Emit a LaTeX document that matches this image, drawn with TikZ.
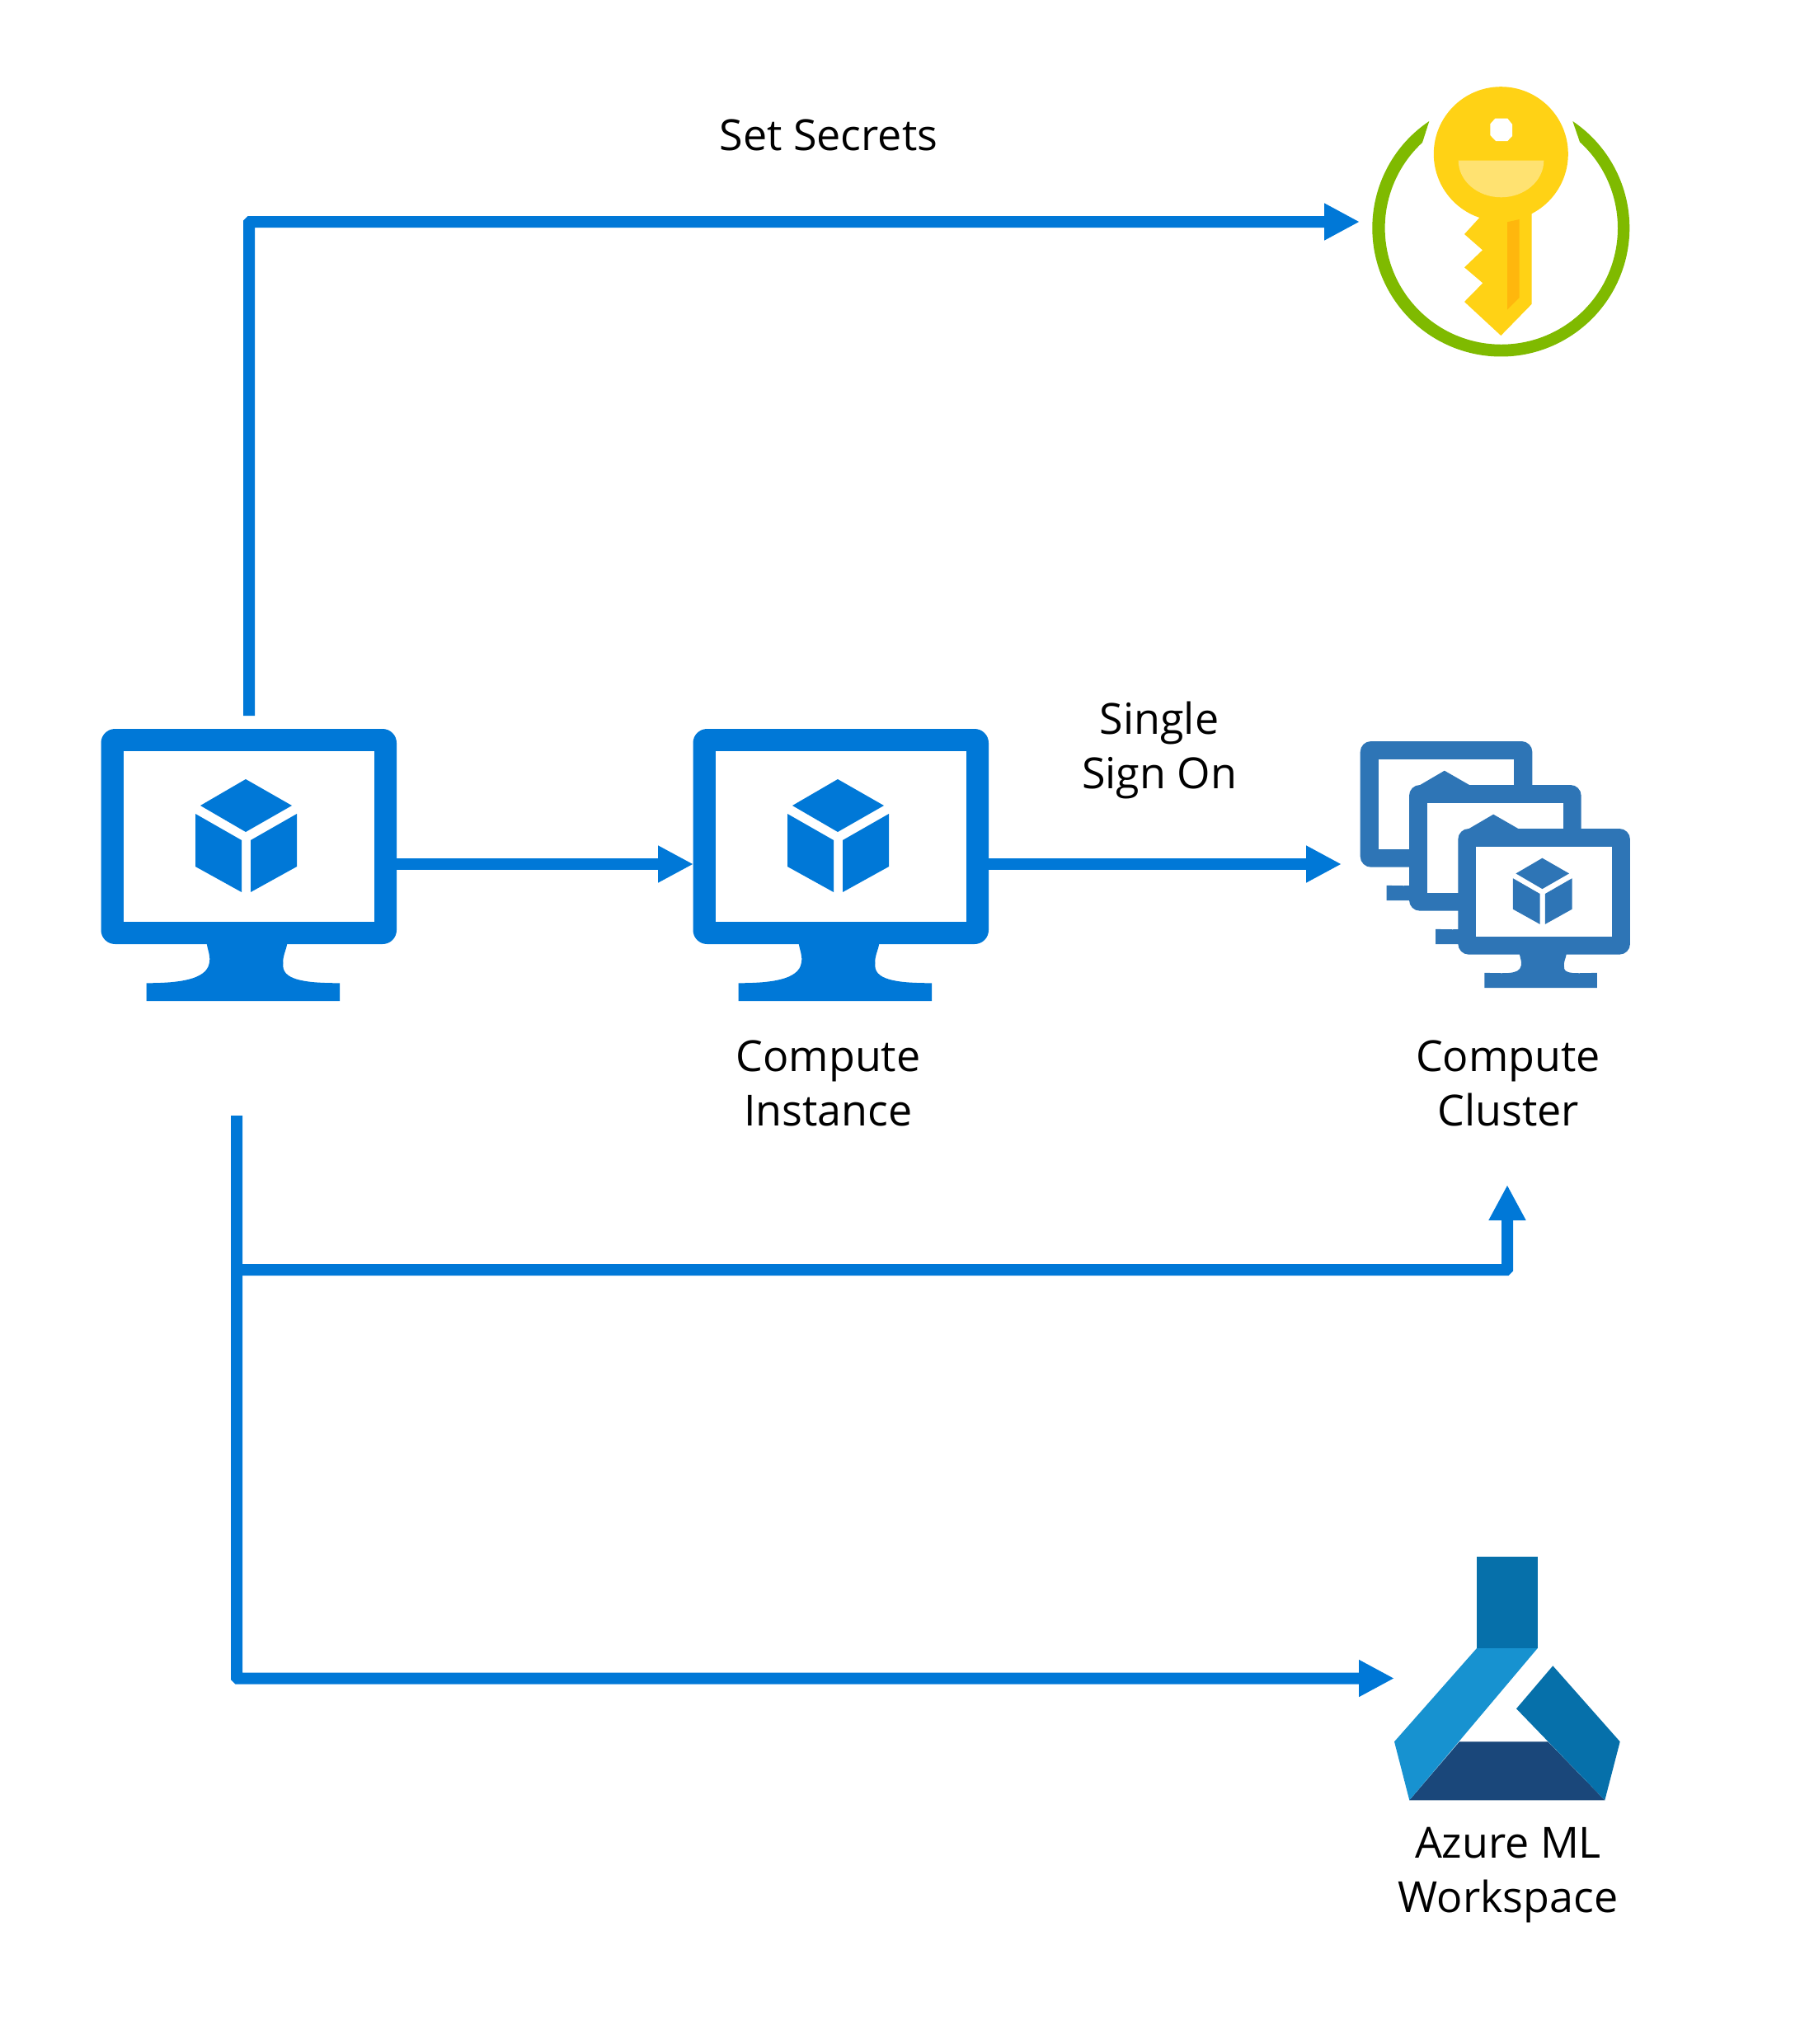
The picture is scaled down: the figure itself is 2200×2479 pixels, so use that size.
\documentclass[tikz,border=0pt]{standalone}
\usepackage{fontspec}
\setmainfont{Open Sans}
\usetikzlibrary{arrows.meta}
\definecolor{azblue}{HTML}{0078D7}
\definecolor{clusterblue}{HTML}{2E75B6}
\definecolor{ringgreen}{HTML}{7FBA00}
\definecolor{keyyellow}{HTML}{FFD215}
\definecolor{keylight}{HTML}{FFE271}
\definecolor{keyorange}{HTML}{FFB70D}
\definecolor{mlmid}{HTML}{0670AA}
\definecolor{mllight}{HTML}{1792D0}
\definecolor{mlnavy}{HTML}{1A477A}
\tikzset{
  flow/.style={draw=azblue,line width=7pt,rounded corners=0.7pt,line cap=butt,
    -{Triangle[length=21.5pt,width=21pt,fill=azblue]}},
  iconbox/.style={inner sep=0pt,outer sep=0pt,draw=none},
  caption/.style={font=\fontsize{26pt}{33pt}\selectfont,align=center,inner sep=0pt,text=black}
}
% #1 x, #2 y, #3 x scale, #4 y scale, #5 colour, #6 corner radius, #7 frame thickness, #8 base top
\newcommand{\vmicon}[8]{%
  \begin{scope}[shift={(#1,#2)},xscale=#3,yscale=#4]
    \fill[#5,rounded corners=#6] (0,0) rectangle (358.5,261);
    \fill[white] (#7,#7) rectangle ({358.5-#7},{261-#7});
    \fill[#5] (128.3,255) -- (128.3,261) .. controls (130,270) and (133,276) .. (131.3,284)
      .. controls (128,304) and (95,#8) .. (55,#8) -- (55,330) -- (289.5,330) -- (289.5,#8)
      .. controls (245,#8) and (218,304) .. (221,284)
      .. controls (220,276) and (224,270) .. (225.7,261) -- (225.7,255) -- cycle;
    \fill[#5] (175.5,61) -- (231.5,93) -- (175.5,125) -- (120.5,93) -- cycle;
    \fill[#5] (114.5,103) -- (170.5,135) -- (170.5,198) -- (114.5,167) -- cycle;
    \fill[#5] (181.5,135) -- (237.5,103) -- (237.5,167) -- (181.5,198) -- cycle;
  \end{scope}}
\begin{document}
\begin{tikzpicture}[x=0.5pt,y=-0.5pt]
\useasboundingbox (0,0) rectangle (2200,2479);
% icon frames
\node[iconbox,minimum width=179pt,minimum height=165pt] (client) at (302,1048) {};
\node[iconbox,minimum width=179pt,minimum height=165pt] (instance) at (1020,1048) {};
\node[iconbox,minimum width=164pt,minimum height=149.5pt] (cluster) at (1813,1048) {};
\node[iconbox,minimum width=155.5pt,minimum height=163.5pt] (vault) at (1820.5,269) {};
\node[iconbox,minimum width=137pt,minimum height=147.5pt] (workspace) at (1828,2035.5) {};
% monitors
\vmicon{122.5}{884}{1}{1}{azblue}{8.5pt}{27.3}{308.3}
\vmicon{840.5}{884}{1}{1}{azblue}{8.5pt}{27.3}{308.3}
% cluster
\vmicon{1649.7}{899}{0.582}{0.585}{clusterblue}{6.5pt}{37.7}{299}
\vmicon{1709}{952}{0.582}{0.585}{clusterblue}{6.5pt}{37.7}{299}
\vmicon{1768.3}{1005}{0.582}{0.585}{clusterblue}{6.5pt}{37.7}{299}
% key vault
\fill[ringgreen] (1733.3,147) arc[start angle=123.9,end angle=416.1,radius=78pt]
  -- (1916,172.3) arc[start angle=47.6,end angle=-227.3,radius=70.6pt] -- cycle;
\fill[keyyellow] (1820.3,186.7) circle[radius=40.75pt];
\fill[keyyellow] (1794,255) -- (1794,264.3) -- (1776,284) -- (1798,303.3) -- (1776,324.3)
  -- (1798.3,343.3) -- (1776,366) -- (1820.3,407) -- (1857.7,368.7) -- (1857.7,255) -- cycle;
\fill[keyorange] (1828,269.3) -- (1842.7,266) -- (1842.7,361) -- (1828,375.7) -- cycle;
\fill[white] (1813.3,143.7) -- (1828.3,143.7) -- (1834,150.7) -- (1834,165) -- (1828.3,171)
  -- (1814,171) -- (1807.3,164) -- (1807.3,150.3) -- cycle;
\fill[keylight] (1768.7,194.7) -- (1872.3,194.7) arc[start angle=0,end angle=-180,x radius=25.9pt,y radius=22.3pt] -- cycle;
% ML workspace
\fill[mlnavy] (1770,2112.3) -- (1877.3,2112.3) -- (1946.3,2183.3) -- (1709.3,2183.3) -- cycle;
\fill[mlmid] (1791,1888) rectangle (1864.7,1999);
\fill[mllight] (1791,1999) -- (1864.7,1999) -- (1709.3,2183.3) -- (1691,2112.3) -- cycle;
\fill[mlmid] (1883.3,2020.3) -- (1964.7,2112.3) -- (1946.3,2183.3) -- (1839,2072.3) -- cycle;
% captions
\node[caption] (secrets) at (1005,163.5) {Set Secrets};
\node[caption] (sso) at (1406,910) {Single\\Sign On};
\node[caption] (instancecap) at (1004.5,1314) {Compute\\Instance};
\node[caption] (clustercap) at (1829,1314) {Compute\\Cluster};
\node[caption] (workspacecap) at (1829,2274.5) {Azure ML\\Workspace};
% connectors
\coordinate (trunk) at (287,1353);
\coordinate (branch) at (287,1540);
\coordinate (clusterin) at (1828,1437);
\draw[flow,shorten <=7.5pt,shorten >=8pt] (client.north) |- (vault.west);
\draw[flow] (client.east) -- (instance.west);
\draw[flow,shorten >=11pt] (instance.east) -- (cluster.west);
\draw[flow] (trunk) |- (workspace.west);
\draw[flow] (branch) -| (clusterin);
\end{tikzpicture}
\end{document}
